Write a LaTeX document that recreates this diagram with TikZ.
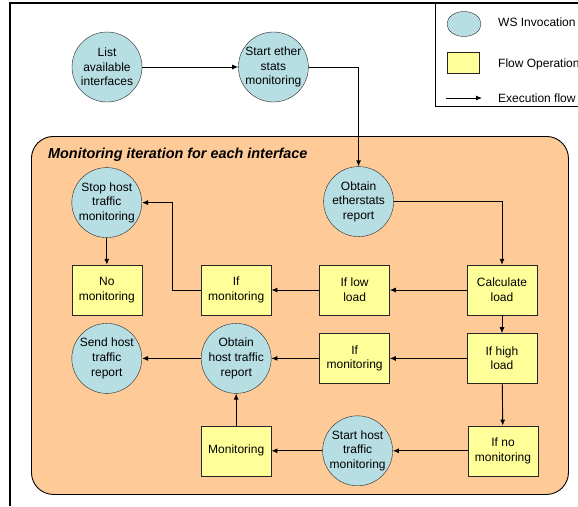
\documentclass[tikz,border=0pt]{standalone}
\usepackage{fontspec}
\setmainfont{Liberation Sans}
\usetikzlibrary{shapes.geometric, arrows.meta, positioning}
\definecolor{wsblue}{RGB}{183,222,227}
\definecolor{flowyellow}{RGB}{255,255,153}
\definecolor{loopfill}{RGB}{254,203,152}
\newcommand{\diagfont}{\fontsize{12}{14.6}\selectfont}
\tikzstyle{wsinv} = [circle, draw=black!85, fill=wsblue, minimum size=70pt, inner sep=0pt, align=center, font=\diagfont]
\tikzstyle{flowop} = [rectangle, draw=black!85, fill=flowyellow, minimum width=70pt, minimum height=50pt, inner sep=0pt, align=center, font=\diagfont]
\tikzstyle{loopbox} = [rectangle, rounded corners=22pt, draw=black, line width=0.9pt, fill=loopfill, minimum width=537pt, minimum height=358pt, anchor=north west]
\tikzstyle{legend} = [anchor=west, inner sep=0pt, font=\diagfont]
\tikzstyle{arrow} = [line width=0.9pt,-{Latex[length=6pt,width=5pt]}]

\begin{document}
\begin{tikzpicture}[x=1pt, y=-1pt]
		\useasboundingbox (0,0) rectangle (578,506);
		% frame and legend
		\draw [line width=1.2pt] (10,506) -- (10,3) -- (578,3);
		\draw [line width=0.9pt] (435,3) -- (435,106) -- (578,106);
		\node (LegendWS) [ellipse, draw=black!85, fill=wsblue, minimum width=34pt, minimum height=25pt, inner sep=0pt] at (464,24) {};
		\node (LegendFlow) [rectangle, draw=black!85, fill=flowyellow, minimum width=32pt, minimum height=21pt, inner sep=0pt] at (463,62.5) {};
		\coordinate (LegendArrowA) at (446,98);
		\coordinate (LegendArrowB) at (482,98);
		\node (LegendWSText) [legend] at (498,22) {WS Invocation};
		\node (LegendFlowText) [legend] at (498,64) {Flow Operation};
		\node (LegendArrowText) [legend] at (498,98) {Execution flow};
		\draw [arrow] (LegendArrowA) -- (LegendArrowB);
		% iteration box
		\node (LoopBox) [loopbox] at (31,136) {};
		\node (LoopTitle) [anchor=base west, inner sep=0pt, font=\fontsize{14.4}{17}\selectfont\bfseries\itshape] at (48,158) {Monitoring iteration for each interface};
		% nodes
		\node (List) [wsinv] at (107,67) {List\\available\\interfaces};
		\node (StartEther) [wsinv, right = 96pt of List] {Start ether\\stats\\monitoring};
		\node (CalcLoad) [flowop] at (502,290) {Calculate\\load};
		\node (IfLow) [flowop, left = 77pt of CalcLoad] {If low\\load};
		\node (IfMonA) [flowop, left = 48pt of IfLow] {If\\monitoring};
		\node (NoMon) [flowop, left = 59pt of IfMonA] {No\\monitoring};
		\node (StopHost) [wsinv, above = 27pt of NoMon] {Stop host\\traffic\\monitoring};
		\node (ObtainEther) [wsinv, above = 28pt of IfLow, xshift=4pt] {Obtain\\etherstats\\report};
		\node (IfHigh) [flowop, below = 18pt of CalcLoad] {If high\\load};
		\node (IfMonB) [flowop, left = 77pt of IfHigh] {If\\monitoring};
		\node (ObtainHost) [wsinv, left = 48pt of IfMonB] {Obtain\\host traffic\\report};
		\node (SendHost) [wsinv, left = 59pt of ObtainHost] {Send host\\traffic\\report};
		\node (IfNoMon) [flowop, below = 42pt of IfHigh, xshift=1pt] {If no\\monitoring};
		\node (StartHost) [wsinv, left = 75pt of IfNoMon] {Start host\\traffic\\monitoring};
		\node (Monitoring) [flowop, left = 51pt of StartHost] {Monitoring};
		% connectors
		\draw [arrow] (List) -- (StartEther);
		\draw [arrow] (StartEther) -| (ObtainEther);
		\draw [arrow] (ObtainEther) -| (CalcLoad);
		\draw [arrow] (CalcLoad) -- (IfLow);
		\draw [arrow] (IfLow) -- (IfMonA);
		\draw [arrow] (IfMonA.west) -- ++(-29,0) |- (StopHost);
		\draw [arrow] (StopHost) -- (NoMon);
		\draw [arrow] (CalcLoad) -- (IfHigh);
		\draw [arrow] (IfHigh) -- (IfMonB);
		\draw [arrow] (IfMonB) -- (ObtainHost);
		\draw [arrow] (ObtainHost) -- (SendHost);
		\draw [arrow] (IfHigh) -- (IfNoMon);
		\draw [arrow] (IfNoMon) -- (StartHost);
		\draw [arrow] (StartHost) -- (Monitoring);
		\draw [arrow] (Monitoring) -- (ObtainHost);
\end{tikzpicture}
\end{document}
